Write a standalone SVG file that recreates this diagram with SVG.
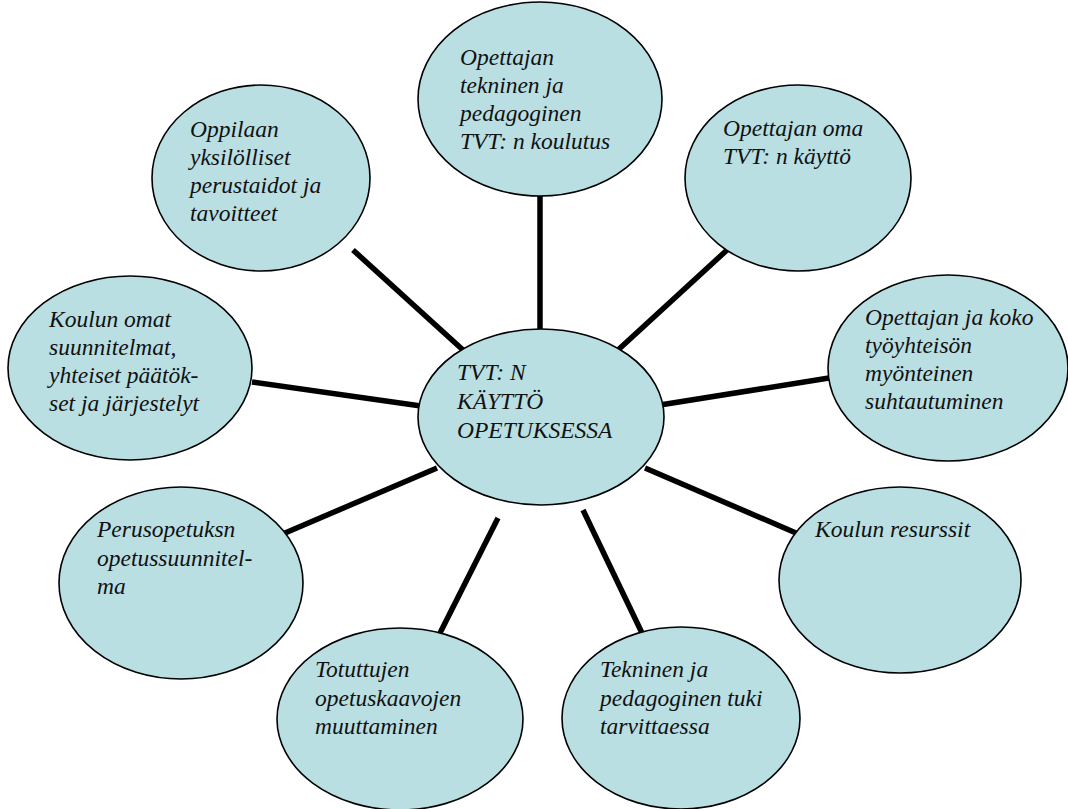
<svg xmlns="http://www.w3.org/2000/svg" width="1068" height="809" viewBox="0 0 1068 809">
<style>
.n ellipse{fill:#b9dfe3;stroke:#000;stroke-width:1.6}
.n text{font-family:'Liberation Serif','Times New Roman',serif;font-style:italic;font-size:23.5px;fill:#111}
#connectors line{stroke:#000;stroke-width:5.5}
</style>
<rect width="1068" height="809" fill="#fff"/>
<g id="connectors">
<line x1="540" y1="196" x2="540" y2="330"/>
<line x1="353" y1="250" x2="463" y2="350"/>
<line x1="727" y1="250" x2="618" y2="350"/>
<line x1="660" y1="405" x2="829" y2="378"/>
<line x1="252" y1="382" x2="421" y2="406"/>
<line x1="285" y1="533" x2="437" y2="468"/>
<line x1="645" y1="468" x2="796" y2="533"/>
<line x1="498" y1="518" x2="440" y2="633"/>
<line x1="583" y1="510" x2="642" y2="633"/>
</g>
<g id="n-center" class="n">
<ellipse cx="541" cy="417" rx="123" ry="88"/>
<text x="457" y="380">TVT: N</text>
<text x="457" y="409">KÄYTTÖ</text>
<text x="457" y="438">OPETUKSESSA</text>
</g>
<g id="n-koulutus" class="n">
<ellipse cx="540" cy="99" rx="122" ry="97"/>
<text x="460" y="65">Opettajan</text>
<text x="460" y="93">tekninen ja</text>
<text x="460" y="121">pedagoginen</text>
<text x="460" y="149">TVT: n koulutus</text>
</g>
<g id="n-oppilaan" class="n">
<ellipse cx="261" cy="178" rx="109" ry="93"/>
<text x="190" y="137">Oppilaan</text>
<text x="190" y="165">yksilölliset</text>
<text x="190" y="193">perustaidot ja</text>
<text x="190" y="221">tavoitteet</text>
</g>
<g id="n-oma" class="n">
<ellipse cx="798" cy="178" rx="113" ry="93"/>
<text x="723" y="136">Opettajan oma</text>
<text x="723" y="164">TVT: n käyttö</text>
</g>
<g id="n-tyoyhteiso" class="n">
<ellipse cx="948" cy="368" rx="120" ry="93"/>
<text x="865" y="325">Opettajan ja koko</text>
<text x="865" y="353">työyhteisön</text>
<text x="865" y="381">myönteinen</text>
<text x="865" y="409">suhtautuminen</text>
</g>
<g id="n-suunnitelmat" class="n">
<ellipse cx="130" cy="368" rx="122" ry="92"/>
<text x="49" y="327">Koulun omat</text>
<text x="49" y="355">suunnitelmat,</text>
<text x="49" y="383">yhteiset päätök-</text>
<text x="49" y="411">set ja järjestelyt</text>
</g>
<g id="n-ops" class="n">
<ellipse cx="181" cy="583" rx="122" ry="96"/>
<text x="97" y="537">Perusopetuksn</text>
<text x="97" y="566">opetussuunnitel-</text>
<text x="97" y="594">ma</text>
</g>
<g id="n-resurssit" class="n">
<ellipse cx="900" cy="580" rx="121" ry="93"/>
<text x="815" y="537">Koulun resurssit</text>
</g>
<g id="n-totuttujen" class="n">
<ellipse cx="400" cy="719" rx="123" ry="91"/>
<text x="315" y="677">Totuttujen</text>
<text x="315" y="706">opetuskaavojen</text>
<text x="315" y="734">muuttaminen</text>
</g>
<g id="n-tuki" class="n">
<ellipse cx="681" cy="718" rx="119" ry="91"/>
<text x="600" y="677">Tekninen ja</text>
<text x="600" y="706">pedagoginen tuki</text>
<text x="600" y="734">tarvittaessa</text>
</g>
</svg>
